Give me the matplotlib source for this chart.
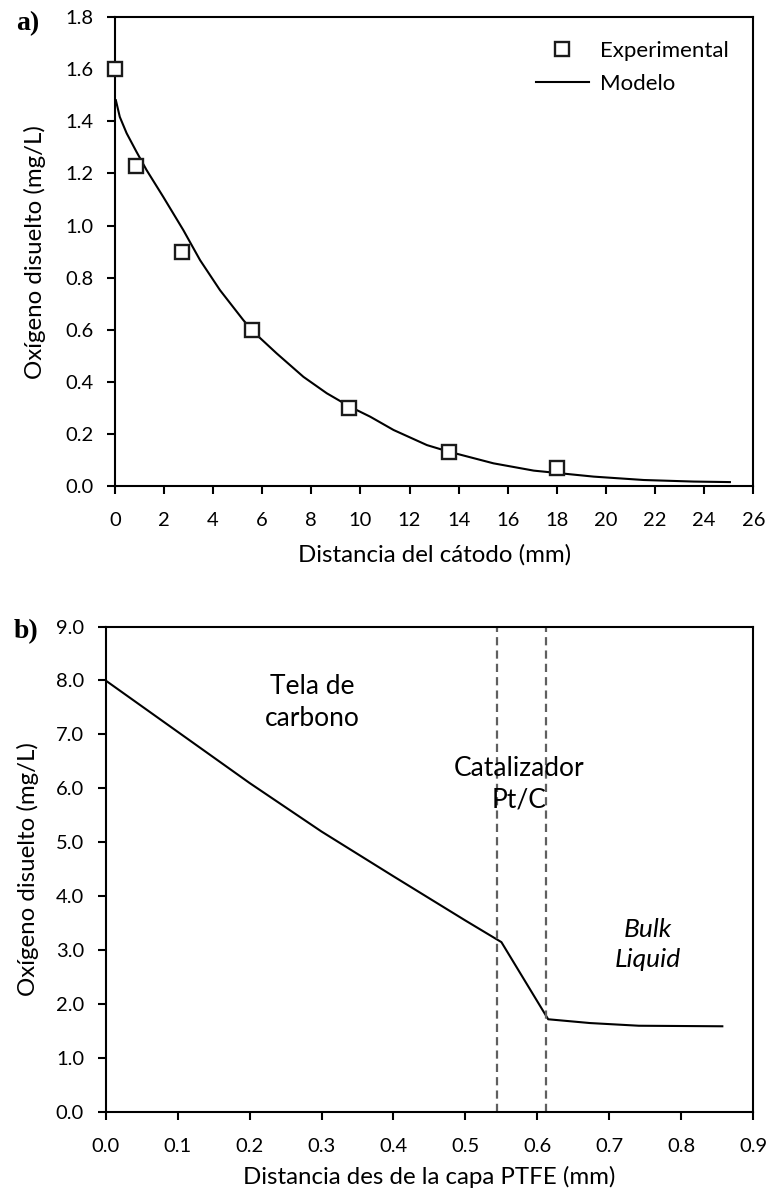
import matplotlib
matplotlib.use("Agg")
import matplotlib.pyplot as plt

plt.rcParams['font.family'] = ['Lato', 'DejaVu Sans']

# panel a) - experimental points and model
exp_x = [0.0, 0.85, 2.75, 5.6, 9.55, 13.6, 18.0]
exp_y = [1.60, 1.23, 0.90, 0.60, 0.30, 0.13, 0.07]

mod_x = [0.04, 0.20, 0.48, 0.88, 1.29, 1.97, 2.79, 3.47, 4.28, 5.23, 5.64,
         6.59, 7.68, 8.63, 9.58, 10.40, 11.35, 12.71, 13.59, 15.42, 17.06,
         19.50, 21.54, 23.58, 25.05]
mod_y = [1.481, 1.417, 1.354, 1.283, 1.213, 1.110, 0.982, 0.867, 0.752, 0.637,
         0.592, 0.509, 0.419, 0.356, 0.304, 0.266, 0.215, 0.157, 0.132, 0.087,
         0.059, 0.036, 0.023, 0.017, 0.015]

# panel b) - profile through the cathode layers
prof_x = [0.0, 0.1, 0.2, 0.3, 0.4, 0.5, 0.55, 0.615, 0.673, 0.741, 0.857]
prof_y = [8.0, 7.05, 6.10, 5.20, 4.37, 3.55, 3.15, 1.72, 1.65, 1.60, 1.59]
layer_bounds = [0.544, 0.6125]

FS = 14.5      # tick labels
LFS = 17.3     # axis labels
AFS = 19       # region labels
LW = 1.5

fig = plt.figure(figsize=(7.71, 11.9), dpi=100)
ax1 = fig.add_axes([0.149, 0.5916, 0.828, 0.394])
ax2 = fig.add_axes([0.137, 0.0655, 0.840, 0.408])


def style(ax):
    for s in ax.spines.values():
        s.set_linewidth(LW)
    ax.tick_params(direction='out', length=5.5, width=LW, labelsize=FS)
    ax.tick_params(axis='x', pad=13)
    ax.tick_params(axis='y', pad=10)


ax1.plot(exp_x, exp_y, 's', ms=10, mfc='white', mec='#1a1a1a', mew=1.7,
         label='Experimental', clip_on=False, zorder=3)
ax1.plot(mod_x, mod_y, '-', color='black', lw=LW, label='Modelo')
ax1.set_xlim(0, 26)
ax1.set_ylim(0, 1.8)
ax1.set_xticks(range(0, 27, 2))
ax1.set_yticks([0.0, 0.2, 0.4, 0.6, 0.8, 1.0, 1.2, 1.4, 1.6, 1.8])
ax1.set_yticklabels(['%.1f' % v for v in ax1.get_yticks()])
style(ax1)
ax1.set_xlabel('Distancia del cátodo (mm)', fontsize=LFS, labelpad=11)
ax1.set_ylabel('Oxígeno disuelto (mg/L)', fontsize=LFS, labelpad=14)
ax1.legend(loc='upper right', bbox_to_anchor=(0.962, 0.95), frameon=False,
           fontsize=16, handlelength=2.4, handletextpad=0.5, labelspacing=0.6,
           borderpad=0, borderaxespad=0)
fig.text(0.036, 0.9805, 'a)', fontsize=20, fontweight='bold',
         family='Liberation Serif', ha='center', va='center')

ax2.plot(prof_x, prof_y, '-', color='black', lw=LW)
for b in layer_bounds:
    ax2.axvline(b, color='#5f5f5f', lw=1.6, dashes=(3.7, 2.3))
ax2.set_xlim(0, 0.9)
ax2.set_ylim(0, 9)
ax2.set_xticks([i / 10 for i in range(10)])
ax2.set_xticklabels(['%.1f' % (i / 10) for i in range(10)])
ax2.set_yticks(range(10))
ax2.set_yticklabels(['%.1f' % v for v in range(10)])
style(ax2)
ax2.set_xlabel('Distancia des de la capa PTFE (mm)', fontsize=LFS, labelpad=8)
ax2.set_ylabel('Oxígeno disuelto (mg/L)', fontsize=LFS, labelpad=12)
ax2.text(0.287, 7.59, 'Tela de\ncarbono', fontsize=AFS, ha='center', va='center',
         linespacing=1.35)
ax2.text(0.575, 6.08, 'Catalizador\nPt/C', fontsize=AFS, ha='center', va='center',
         linespacing=1.35)
ax2.text(0.754, 3.10, 'Bulk\nLiquid', fontsize=AFS, ha='center', va='center',
         linespacing=1.35, style='italic')
fig.text(0.034, 0.469, 'b)', fontsize=20, fontweight='bold',
         family='Liberation Serif', ha='center', va='center')

fig.savefig('out.png', dpi=100)
